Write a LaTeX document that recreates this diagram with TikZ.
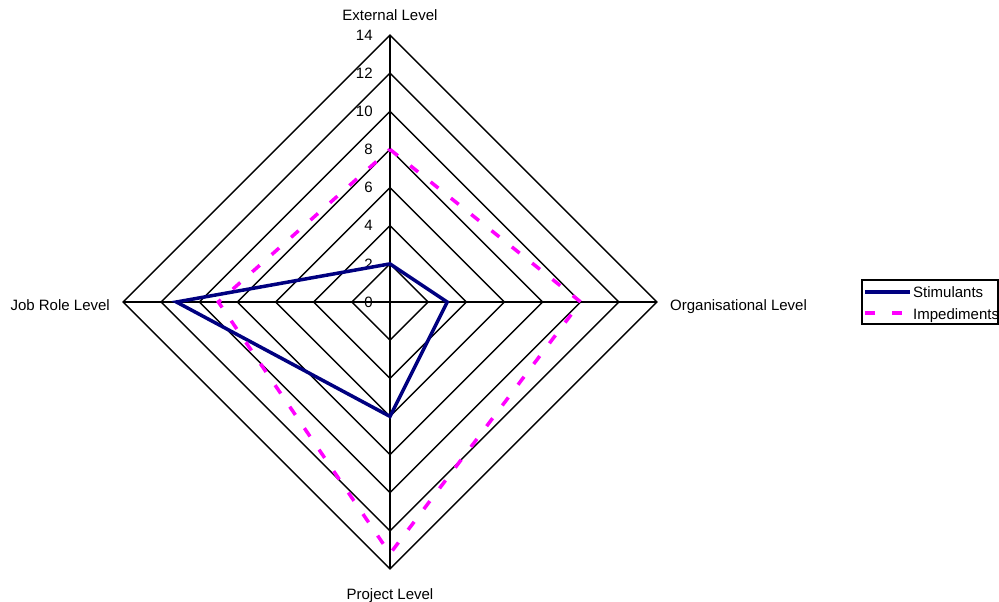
\documentclass[tikz,border=0pt]{standalone}
\usepackage{fontspec}
\setmainfont{Liberation Sans}
\definecolor{stimblue}{RGB}{0,0,128}
\definecolor{impmag}{RGB}{255,0,255}
\begin{document}
\begin{tikzpicture}[
    x=19.07pt, y=19.07pt,
    grid/.style={line width=1.4pt, black, line join=miter},
    stim/.style={line width=3.5pt, stimblue, line join=miter},
    imped/.style={line width=3.5pt, impmag, dash pattern=on 10pt off 16pt},
    txt/.style={font=\fontsize{15}{18}\selectfont, inner sep=0pt},
    tick/.style={txt, anchor=east},
]
\useasboundingbox (-390pt,-300pt) rectangle (609pt,302pt);

% Rings at 2, 4, ..., 14 and the two axes
\foreach \r in {2,4,...,14}
    \draw[grid] (0,\r) -- (\r,0) -- (0,-\r) -- (-\r,0) -- cycle;
\draw[grid] (0,-14) -- (0,14);
\draw[grid] (-14,0) -- (14,0);

% Scale
\foreach \r in {0,2,...,14}
    \node[tick] (t\r) at (-0.9,\r) {\r};

% Axis names
\node[txt, anchor=base] (ext) at (0pt,281pt) {External Level};
\node[txt, anchor=base west] (org) at (280pt,-9pt) {Organisational Level};
\node[txt, anchor=base] (proj) at (0pt,-297pt) {Project Level};
\node[txt, anchor=base east] (job) at (-280pt,-9pt) {Job Role Level};

% Data points
\coordinate (s1) at (0,2);
\coordinate (s2) at (3,0);
\coordinate (s3) at (0,-6);
\coordinate (s4) at (-11.2,0);
\coordinate (i1) at (0,8);
\coordinate (i2) at (10,0);
\coordinate (i3) at (0,-13.2);
\coordinate (i4) at (-9,0);

\draw[stim] (s1) -- (s2) -- (s3) -- (s4) -- cycle;
\draw[imped] (i1) -- (i2) -- (i3) -- (i4) -- cycle;

% Legend
\draw[line width=1.4pt] (472pt,22pt) rectangle (608pt,-22pt);
\coordinate (ls1) at (475pt,10pt);
\coordinate (ls2) at (520pt,10pt);
\coordinate (li1) at (475pt,-11pt);
\coordinate (li2) at (513pt,-11pt);
\draw[stim] (ls1) -- (ls2);
\draw[imped, dash pattern=on 10pt off 17pt] (li1) -- (li2);
\node[txt, anchor=base west] (lstim) at (523pt,4pt) {Stimulants};
\node[txt, anchor=base west] (limp) at (523pt,-18pt) {Impediments};

\end{tikzpicture}
\end{document}
